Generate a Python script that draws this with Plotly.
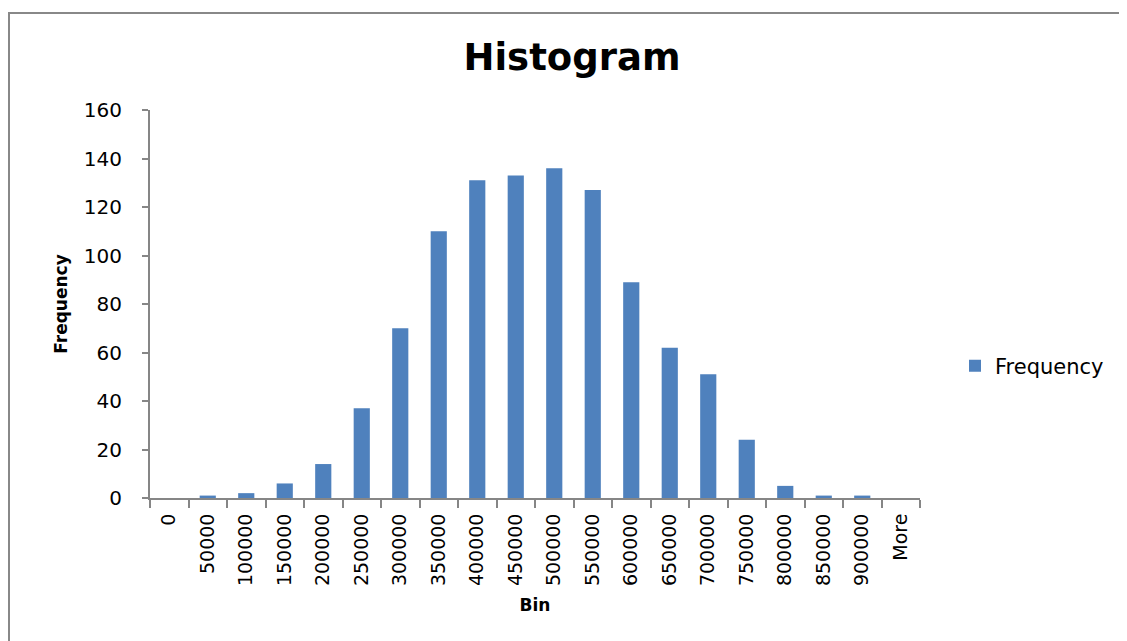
import plotly.graph_objects as go

bins = ["0", "50000", "100000", "150000", "200000", "250000", "300000", "350000",
        "400000", "450000", "500000", "550000", "600000", "650000", "700000",
        "750000", "800000", "850000", "900000", "More"]
frequency = [0, 1, 2, 6, 14, 37, 70, 110, 131, 133, 136, 127, 89, 62, 51, 24, 5, 1, 1, 0]

FONT = "'DejaVu Sans', sans-serif"
AX = "#868686"
BAR = "#4F81BD"

# page body has an 8px margin; compensate so the plot lands where the reference has it
OFF = 8
W, H = 1127 - OFF, 641 - OFF
L, T = 150 - OFF, 110 - OFF
pw, ph = 770, 388
R, B = W - L - pw, H - T - ph

fig = go.Figure(go.Bar(x=bins, y=frequency, name="Frequency", marker_color=BAR,
                       marker_line_width=0, showlegend=True))

fig.update_layout(
    width=W, height=H,
    margin=dict(l=L, r=R, t=T, b=B, pad=0),
    paper_bgcolor="white", plot_bgcolor="white",
    bargap=0.58,
    font=dict(family=FONT, color="black"),
    title=dict(text="<b>Histogram</b>", x=(572 - OFF) / W, xanchor="center",
               y=1 - (57 - OFF) / H, yanchor="middle", font=dict(size=37, family=FONT)),
    showlegend=True,
    legend=dict(x=(955 - 150) / pw, y=(498 - 366) / ph, xanchor="left", yanchor="middle",
                font=dict(size=21, family=FONT), bgcolor="rgba(0,0,0,0)",
                itemwidth=30),
    xaxis=dict(type="category", showline=True, linecolor=AX, linewidth=2,
               ticks="outside", tickson="boundaries", ticklen=8, tickcolor=AX, tickwidth=2,
               tickangle=-90, tickfont=dict(size=19, family=FONT), ticklabelstandoff=6,
               title=dict(text="<b>Bin</b>", font=dict(size=17, family=FONT), standoff=14),
               showgrid=False),
    yaxis=dict(range=[0, 160], dtick=20, showline=True, linecolor=AX, linewidth=2,
               ticks="outside", ticklen=6, tickcolor=AX, tickwidth=2,
               ticklabelstandoff=16,
               tickfont=dict(size=20, family=FONT), showgrid=False, zeroline=False,
               title=dict(text="<b>Frequency</b>", font=dict(size=17, family=FONT), standoff=12)),
)

fig.add_shape(type="rect", xref="paper", yref="paper",
              x0=(9 - 150) / pw, x1=(1140 - 150) / pw,
              y0=(498 - 660) / ph, y1=(498 - 13) / ph,
              line=dict(color="#888888", width=2), fillcolor="rgba(0,0,0,0)", layer="below")

fig.write_html("out.html")
